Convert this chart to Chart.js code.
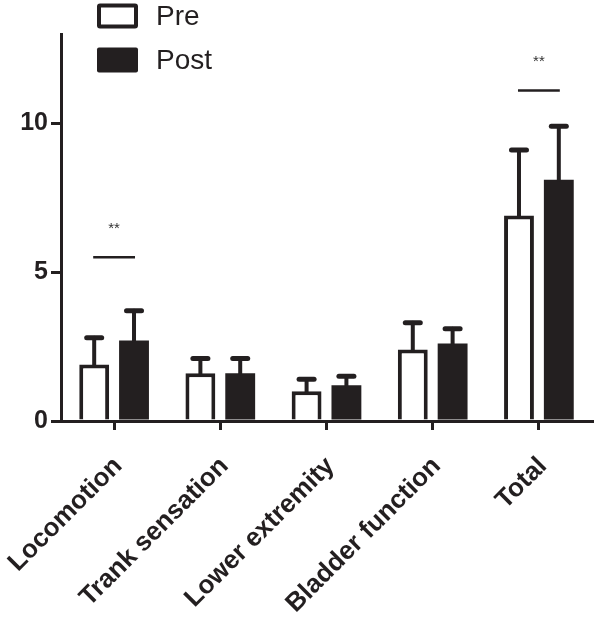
<!DOCTYPE html>
<html>
<head>
<meta charset="utf-8">
<script src="https://cdn.jsdelivr.net/npm/chart.js@4/dist/chart.umd.min.js"></script>
<style>
  html, body { margin: 0; padding: 0; background: #fff; }
  #wrap { width: 600px; height: 633px; position: relative; }
</style>
</head>
<body>
<div id="wrap"><canvas id="myBarChart"></canvas></div>
<script>
// values
const categories = ['Locomotion', 'Trank sensation', 'Lower extremity', 'Bladder function', 'Total'];
const preMean = [1.9, 1.6, 1.0, 2.4, 6.9];
const preSD = [0.9, 0.5, 0.4, 0.9, 2.2];
const postMean = [2.7, 1.6, 1.2, 2.6, 8.1];
const postSD = [1.0, 0.5, 0.3, 0.5, 1.8];
const yTicks = [0, 5, 10];
// significance marks: category index, bar level, star level
const sigIndex = [0, 4];
const sigLine = [5.5, 11.1];
const sigStar = [6.6, 12.2];

const ink = '#231f20';

const errorBars = {
    id: 'errorBars',
    afterDatasetsDraw(chart) {
        const ctx = chart.ctx;
        const y = chart.scales.y;
        const sds = [preSD, postSD];
        ctx.save();
        ctx.strokeStyle = ink;
        ctx.lineCap = 'round';
        chart.data.datasets.forEach((ds, i) => {
            chart.getDatasetMeta(i).data.forEach((bar, j) => {
                const top = y.getPixelForValue(ds.data[j] + sds[i][j]);
                ctx.lineWidth = 4;
                ctx.beginPath();
                ctx.moveTo(bar.x, bar.y);
                ctx.lineTo(bar.x, top);
                ctx.stroke();
                ctx.lineWidth = 5;
                ctx.beginPath();
                ctx.moveTo(bar.x - 7.5, top);
                ctx.lineTo(bar.x + 7.5, top);
                ctx.stroke();
            });
        });
        // significance lines
        ctx.lineCap = 'butt';
        ctx.lineWidth = 2.5;
        ctx.fillStyle = '#333';
        ctx.font = '15px "Liberation Sans", Arial, sans-serif';
        ctx.textAlign = 'center';
        ctx.textBaseline = 'middle';
        sigIndex.forEach((k, n) => {
            const x0 = chart.getDatasetMeta(0).data[k].x;
            const x1 = chart.getDatasetMeta(1).data[k].x;
            const ly = y.getPixelForValue(sigLine[n]);
            ctx.beginPath();
            ctx.moveTo(x0 - 1, ly);
            ctx.lineTo(x1 + 1, ly);
            ctx.stroke();
            ctx.fillText('**', (x0 + x1) / 2, y.getPixelForValue(sigStar[n]) + 4);
        });
        ctx.restore();
    }
};

const legendBoxes = {
    id: 'legendBoxes',
    afterDraw(chart) {
        const ctx = chart.ctx;
        ctx.save();
        ctx.font = '28px "Liberation Sans", Arial, sans-serif';
        ctx.textBaseline = 'middle';
        ctx.textAlign = 'left';
        chart.data.datasets.forEach((ds, i) => {
            const cy = 16 + i * 44;
            ctx.beginPath();
            ctx.roundRect(97, cy - 12.5, 41, 25, 2);
            ctx.fillStyle = ds.backgroundColor;
            ctx.fill();
            ctx.lineWidth = 4;
            ctx.strokeStyle = ink;
            if (i === 0) {
                ctx.beginPath();
                ctx.roundRect(99, cy - 10.5, 37, 21, 1);
                ctx.stroke();
            }
            ctx.fillStyle = '#231f20';
            ctx.fillText(ds.label, 156, cy + 1);
        });
        ctx.restore();
    }
};

const barCtx = document.getElementById('myBarChart').getContext('2d');
new Chart(barCtx, {
    type: 'bar',
    data: {
        labels: categories,
        datasets: [{
            label: 'Pre',
            data: preMean,
            backgroundColor: '#ffffff',
            borderColor: ink,
            borderWidth: 4,
            borderSkipped: 'start'
        }, {
            label: 'Post',
            data: postMean,
            backgroundColor: ink,
            borderWidth: 0
        }]
    },
    options: {
        responsive: true,
        maintainAspectRatio: false,
        animation: false,
        datasets: { bar: { categoryPercentage: 0.75, barPercentage: 0.75 } },
        layout: { padding: { top: 34, right: 8, left: 0, bottom: 0 } },
        plugins: { legend: { display: false }, tooltip: { enabled: false } },
        scales: {
            x: {
                afterFit: s => { s.height = 212; s.paddingLeft = 0; s.paddingRight = 0; },
                border: { color: ink, width: 3 },
                grid: { display: true, drawOnChartArea: false, offset: false, color: ink, lineWidth: 3, tickLength: 9 },
                ticks: {
                    color: ink,
                    font: { family: '"Liberation Sans", Arial, sans-serif', size: 26, weight: 'bold' },
                    minRotation: 45,
                    maxRotation: 45,
                    padding: 21,
                    labelOffset: 4
                }
            },
            y: {
                min: 0,
                max: 13,
                afterFit: s => { s.width = 61; },
                afterBuildTicks: s => { s.ticks = yTicks.map(v => ({ value: v })); },
                border: { color: ink, width: 3 },
                grid: { display: true, drawOnChartArea: false, color: ink, lineWidth: 3, tickLength: 10 },
                ticks: {
                    color: ink,
                    font: { family: '"Liberation Sans", Arial, sans-serif', size: 25, weight: 'bold' },
                    padding: 3
                }
            }
        }
    },
    plugins: [errorBars, legendBoxes]
});
</script>
</body>
</html>
